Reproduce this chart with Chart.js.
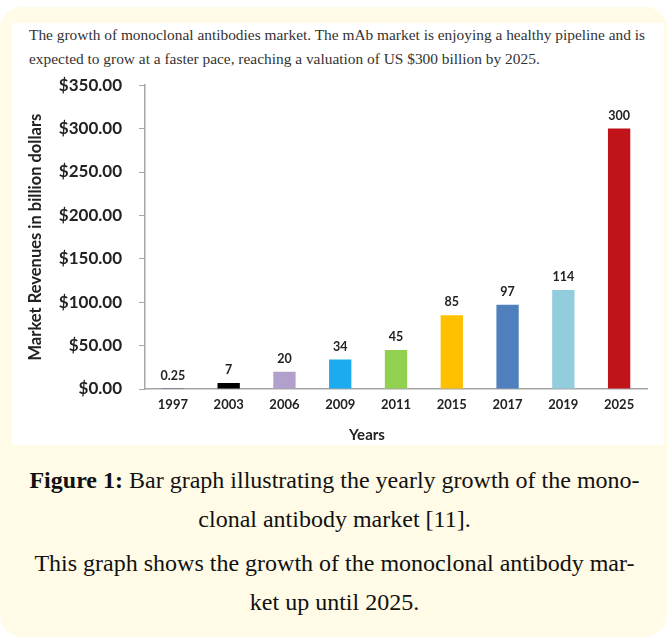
<!DOCTYPE html>
<html>
<head>
<meta charset="utf-8">
<script src="https://cdn.jsdelivr.net/npm/chart.js@4.4.1/dist/chart.umd.min.js"></script>
<style>
  html, body { margin: 0; padding: 0; background: #ffffff; }
  body { width: 669px; height: 638px; position: relative; overflow: hidden; }
  #panel {
    position: absolute; left: 0; top: 7px; width: 667px; height: 630px;
    background: #fffbe7; border-radius: 22px;
  }
  #figure {
    position: absolute; left: 12px; top: 23px; width: 652px; height: 422px;
    background: #ffffff;
  }
  #intro {
    position: absolute; left: 29px; top: 23px; white-space: nowrap;
    font-family: "Liberation Serif", serif; font-size: 15.4px; line-height: 24px;
    color: #333;
  }
  #chartBox { position: absolute; left: 13px; top: 58px; width: 651px; height: 387px; }
  #xTitle {
    position: absolute; left: 367px; top: 425px; transform: translateX(-50%);
    font-family: Lato, sans-serif; font-weight: bold; font-size: 15px; color: #222;
  }
  .caption {
    position: absolute; left: 0; width: 669px; text-align: center; white-space: nowrap;
    font-family: "Liberation Serif", serif; font-size: 24px; line-height: 39px; color: #111;
  }
</style>
</head>
<body>
<div id="panel"></div>
<div id="figure"></div>
<div id="intro">The growth of monoclonal antibodies market. The mAb market is enjoying a healthy pipeline and is<br>expected to grow at a faster pace, reaching a valuation of US $300 billion by 2025.</div>
<div id="chartBox"><canvas id="bar-chart"></canvas></div>
<div id="xTitle">Years</div>
<div class="caption" style="top:461px"><b>Figure 1:</b> Bar graph illustrating the yearly growth of the mono-<br>clonal antibody market [11].</div>
<div class="caption" style="top:544px">This graph shows the growth of the monoclonal antibody mar-<br>ket up until 2025.</div>

<script>
// Data
var years = ['1997', '2003', '2006', '2009', '2011', '2015', '2017', '2019', '2025'];
var revenues = [0.25, 7, 20, 34, 45, 85, 97, 114, 300];
var barColors = ['#1f3864', '#000000', '#b1a0cc', '#1cabef', '#92d050', '#ffc000', '#4f7fbd', '#92cddd', '#c0141a'];
var yTicks = [0, 50, 100, 150, 200, 250, 300, 350];

var chartctx = document.getElementById('bar-chart');

// draws the value above each bar
var barLabels = {
    id: 'barLabels',
    afterDatasetsDraw: function(chart){
        var ctx = chart.ctx;
        var meta = chart.getDatasetMeta(0);
        ctx.save();
        ctx.font = 'bold 12.5px Lato';
        ctx.fillStyle = '#222';
        ctx.textAlign = 'center';
        ctx.textBaseline = 'middle';
        meta.data.forEach(function(bar, i){
            ctx.fillText(String(revenues[i]), bar.x, bar.y - 13);
        });
        ctx.restore();
    }
}

var chart = new Chart(chartctx, {
    type: 'bar',
    data: {
        labels: years,
        datasets: [{
            data: revenues,
            backgroundColor: barColors,
            barPercentage: 0.4,
            categoryPercentage: 1.0
        }]
    },
    options: {
        responsive: true,
        maintainAspectRatio: false,
        animation: false,
        layout: { padding: { top: 12, right: 17, bottom: 0, left: 0 } },
        plugins: {
            legend: { display: false },
            tooltip: { enabled: false }
        },
        scales: {
            x: {
                grid: { display: false, drawTicks: false },
                border: { display: true, color: '#a6a6a6', width: 1.5 },
                ticks: {
                    color: '#222',
                    padding: 8,
                    font: { family: 'Lato', weight: 'bold', size: 13 }
                },
                afterFit: function(scale){ scale.height = 56; }
            },
            y: {
                min: 0,
                max: 350,
                afterBuildTicks: function(scale){
                    scale.ticks = yTicks.map(function(v){ return { value: v }; });
                },
                grid: { display: true, drawOnChartArea: false, drawTicks: true, tickLength: 6, color: '#a6a6a6' },
                border: { display: true, color: '#a6a6a6', width: 1.5 },
                ticks: {
                    color: '#222',
                    padding: 17,
                    font: { family: 'Lato', weight: 'bold', size: 17 },
                    callback: function(v){ return '$' + Number(v).toFixed(2); }
                },
                title: {
                    display: true,
                    text: 'Market Revenues in billion dollars',
                    color: '#222',
                    padding: { top: 13, bottom: 0 },
                    font: { family: 'Lato', weight: 'bold', size: 16.5 }
                },
                afterFit: function(scale){ scale.width = 132; }
            }
        }
    },
    plugins: [barLabels]
});
</script>
</body>
</html>
